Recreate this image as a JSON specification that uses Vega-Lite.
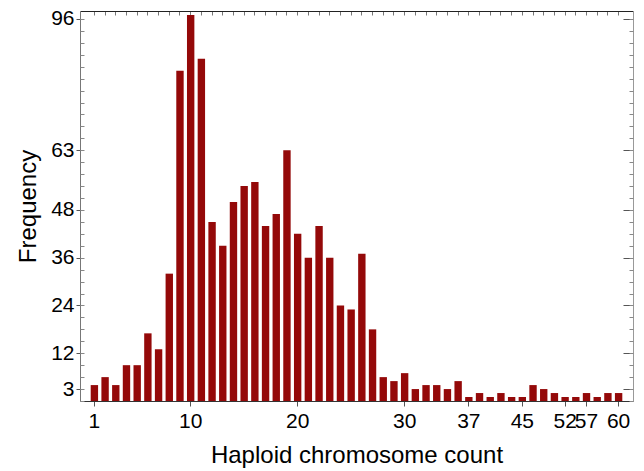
{
  "$schema": "https://vega.github.io/schema/vega-lite/v6.json",
  "autosize": "none",
  "width": 553,
  "height": 390,
  "padding": {"left": 80, "top": 11, "right": 11, "bottom": 70},
  "background": "white",
  "config": {
    "view": {"stroke": null},
    "font": "Liberation Sans",
    "axis": {"grid": false, "domainColor": "#333333", "tickColor": "#555555", "labelColor": "black", "titleColor": "black", "labelFont": "Liberation Sans", "titleFont": "Liberation Sans", "titleFontWeight": "normal"}
  },
  "data": {"values": [
    {"n": 1, "f": 4}, {"n": 2, "f": 6}, {"n": 3, "f": 4}, {"n": 4, "f": 9}, {"n": 5, "f": 9},
    {"n": 6, "f": 17}, {"n": 7, "f": 13}, {"n": 8, "f": 32}, {"n": 9, "f": 83}, {"n": 10, "f": 97},
    {"n": 11, "f": 86}, {"n": 12, "f": 45}, {"n": 13, "f": 39}, {"n": 14, "f": 50}, {"n": 15, "f": 54},
    {"n": 16, "f": 55}, {"n": 17, "f": 44}, {"n": 18, "f": 47}, {"n": 19, "f": 63}, {"n": 20, "f": 42},
    {"n": 21, "f": 36}, {"n": 22, "f": 44}, {"n": 23, "f": 36}, {"n": 24, "f": 24}, {"n": 25, "f": 23},
    {"n": 26, "f": 37}, {"n": 27, "f": 18}, {"n": 28, "f": 6}, {"n": 29, "f": 5}, {"n": 30, "f": 7},
    {"n": 31, "f": 3}, {"n": 32, "f": 4}, {"n": 33, "f": 4}, {"n": 34, "f": 3}, {"n": 36, "f": 5},
    {"n": 37, "f": 1}, {"n": 38, "f": 2}, {"n": 39, "f": 1}, {"n": 40, "f": 2}, {"n": 42, "f": 1},
    {"n": 45, "f": 1}, {"n": 46, "f": 4}, {"n": 48, "f": 3}, {"n": 50, "f": 2}, {"n": 52, "f": 1},
    {"n": 54, "f": 1}, {"n": 57, "f": 2}, {"n": 58, "f": 1}, {"n": 59, "f": 2}, {"n": 60, "f": 2}
  ]},
  "resolve": {"axis": {"x": "independent", "y": "independent"}},
  "layer": [
    {
      "mark": {"type": "bar", "color": "#940909"},
      "encoding": {
        "x": {"field": "n", "type": "ordinal", "sort": "ascending",
          "scale": {"paddingInner": 0.31, "paddingOuter": 1.13},
          "axis": {"orient": "bottom", "title": "Haploid chromosome count", "values": [1, 10, 20, 30, 37, 45, 52, 57, 60],
            "labelAngle": 0, "labelFontSize": 21, "labelOverlap": false, "titleFontSize": 24, "tickSize": 5, "labelPadding": 4, "titlePadding": 12, "domainColor": "#333333"}},
        "y": {"field": "f", "type": "quantitative",
          "scale": {"domain": [0, 98], "nice": false, "zero": true},
          "axis": {"orient": "left", "title": "Frequency", "values": [3, 12, 24, 36, 48, 63, 96],
            "labelFontSize": 21, "labelOverlap": false, "titleFontSize": 24, "tickSize": 4, "labelPadding": 2, "titlePadding": 10, "domainColor": "#777777"}}
      }
    },
    {
      "mark": {"type": "bar", "opacity": 0},
      "encoding": {
        "x": {"field": "n", "type": "ordinal", "sort": "ascending",
          "axis": {"orient": "top", "title": null, "labels": false, "tickSize": -4, "domainColor": "#222222", "tickColor": "#777777"}},
        "y": {"field": "f", "type": "quantitative",
          "axis": {"orient": "right", "title": null, "labels": false, "values": [3, 12, 24, 36, 48, 63, 96], "tickSize": -10, "domainColor": "#999999"}}
      }
    },
    {
      "mark": {"type": "bar", "opacity": 0},
      "encoding": {
        "x": {"field": "n", "type": "ordinal", "sort": "ascending", "axis": null},
        "y": {"field": "f", "type": "quantitative",
          "axis": {"orient": "left", "title": null, "labels": false, "domain": false, "tickSize": -4, "tickColor": "#888888",
            "values": [0, 3, 6, 9, 12, 15, 18, 21, 24, 27, 30, 33, 36, 39, 42, 45, 48, 51, 54, 57, 60, 63, 66, 69, 72, 75, 78, 81, 84, 87, 90, 93, 96]}}
      }
    },
    {
      "mark": {"type": "bar", "opacity": 0},
      "encoding": {
        "x": {"field": "n", "type": "ordinal", "sort": "ascending", "axis": null},
        "y": {"field": "f", "type": "quantitative",
          "axis": {"orient": "right", "title": null, "labels": false, "domain": false, "tickSize": -4, "tickColor": "#888888",
            "values": [0, 3, 6, 9, 12, 15, 18, 21, 24, 27, 30, 33, 36, 39, 42, 45, 48, 51, 54, 57, 60, 63, 66, 69, 72, 75, 78, 81, 84, 87, 90, 93, 96]}}
      }
    }
  ]
}
